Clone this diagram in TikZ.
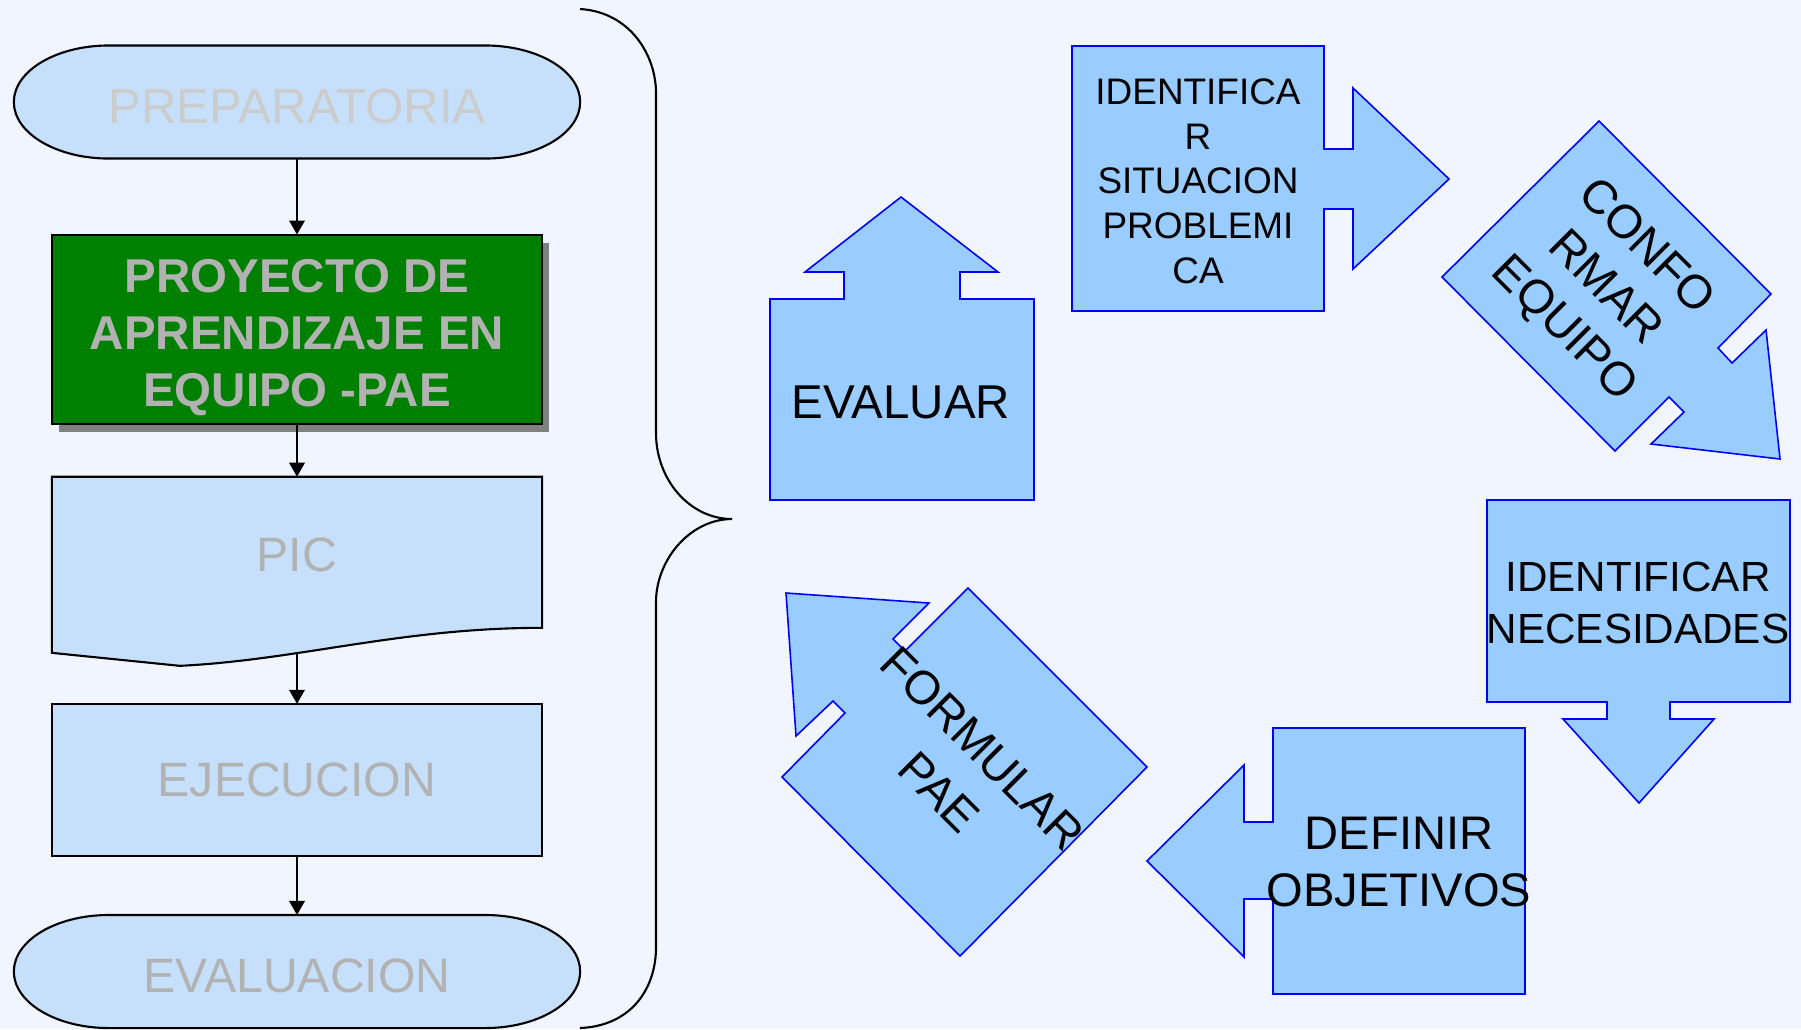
\documentclass[tikz,border=0pt]{standalone}
\usepackage{fontspec}
\setmainfont{Liberation Sans}
\usetikzlibrary{positioning,shadows,backgrounds,arrows.meta}
\definecolor{pagebg}{HTML}{F0F5FF}
\definecolor{flowfill}{HTML}{C6E0FC}
\definecolor{flowtext}{HTML}{B2B2B2}
\definecolor{fainttext}{HTML}{CCCCCC}
\definecolor{cyclefill}{HTML}{99CCFF}
\definecolor{paegreen}{HTML}{008000}
\tikzset{
  flowline/.style={
    draw=black,
    line width=0.6pt
  },
  flowbox/.style={
    rectangle,
    minimum width=4.9cm,
    align=center,
    text=flowtext,
    font=\fontsize{13.7}{16.2}\selectfont,
    inner sep=0pt,
    outer sep=0pt,
  },
  terminal/.style={
    flowbox,
    minimum width=5.66cm,
    minimum height=1.13cm,
    text height=11.8pt,
    text depth=0pt
  },
  flowarrow/.style={
    draw=black,
    line width=0.6pt,
    ->,
    >={Triangle[length=4pt,width=4.4pt]}
  },
  cycleshape/.style={
    fill=cyclefill,
    draw=blue,
    line width=0.45pt,
    line join=miter
  },
  cyclelabel/.style={
    align=center,
    text=black,
    inner sep=0pt,
    font=\fontsize{13.5}{16.2}\selectfont
  }
}

\begin{document}
\begin{tikzpicture}[x=0.01cm, y=-0.01cm]
    \useasboundingbox (0,0) rectangle (1801,1029);

    % left column
    \node [terminal, text=fainttext, font=\fontsize{14}{16.2}\selectfont, text height=12.3pt] (prep) at (297,102) {PREPARATORIA};

    \node [flowbox, flowline, fill=paegreen, minimum height=1.89cm,
           drop shadow={shadow xshift=0.07cm, shadow yshift=-0.08cm, fill=gray, opacity=1},
           below=0.76cm of prep] (pae) {};
    \node [flowbox, font=\bfseries\fontsize{13.5}{16.1}\selectfont, yshift=-0.085cm] (paetext) at (pae)
      {PROYECTO DE\\APRENDIZAJE EN\\EQUIPO -PAE};

    \node [flowbox, minimum height=1.56cm, below=0.53cm of pae] (pic) {PIC};

    \node [flowbox, flowline, fill=flowfill, minimum height=1.52cm, below=0.71cm of pic] (ejec) {EJECUCION};

    \node [terminal, below=0.59cm of ejec] (evalu) {EVALUACION};

    \coordinate (picwave) at ([yshift=-0.21cm]pic.south);

    \begin{scope}[on background layer]
      \fill [pagebg] (0,0) rectangle (1801,1029);
      \draw [flowline, fill=flowfill] ([xshift=0.95cm]prep.north west) -- ([xshift=-0.95cm]prep.north east)
        arc [start angle=90, end angle=-90, x radius=0.95cm, y radius=0.565cm]
        -- ([xshift=0.95cm]prep.south west)
        arc [start angle=270, end angle=90, x radius=0.95cm, y radius=0.565cm] -- cycle;
      \draw [flowline, fill=flowfill] ([xshift=0.95cm]evalu.north west) -- ([xshift=-0.95cm]evalu.north east)
        arc [start angle=90, end angle=-90, x radius=0.95cm, y radius=0.565cm]
        -- ([xshift=0.95cm]evalu.south west)
        arc [start angle=270, end angle=90, x radius=0.95cm, y radius=0.565cm] -- cycle;
      \draw [flowline, fill=flowfill] (pic.north west) -- (pic.north east) -- ([yshift=0.05cm]pic.south east)
        .. controls +(-142,0) and +(120,-6) .. ([xshift=1.28cm, yshift=-0.33cm]pic.south west)
        -- ([yshift=-0.2cm]pic.south west) -- cycle;
    \end{scope}

    \draw [flowarrow] (prep) -- (pae);
    \draw [flowarrow] (pae) -- (pic);
    \draw [flowarrow] (picwave) -- (ejec);
    \draw [flowarrow] (ejec) -- (evalu);

    % brace
    \draw [flowline] (580,9) .. controls (630,12) and (656,55) .. (656,93) -- (656,433)
      .. controls (656,480) and (690,519) .. (732,519)
      .. controls (690,519) and (656,560) .. (656,602) -- (656,947)
      .. controls (656,990) and (630,1026) .. (580,1028);

    % cycle
    \draw [cycleshape] (770,500) -- (770,299) -- (844,299) -- (844,272) -- (805,272) -- (901,197)
      -- (998,272) -- (960,272) -- (960,299) -- (1034,299) -- (1034,500) -- cycle;
    \node [cyclelabel] (evaluar) at (901,402) {EVALUAR};

    \draw [cycleshape] (1072,46) -- (1324,46) -- (1324,149) -- (1353,149) -- (1353,88) -- (1449,179)
      -- (1353,269) -- (1353,209) -- (1324,209) -- (1324,311) -- (1072,311) -- cycle;
    \node [cyclelabel, font=\fontsize{10.5}{12.7}\selectfont] (situacion) at (1198,181)
      {IDENTIFICA\\R\\SITUACION\\PROBLEMI\\CA};

    \draw [cycleshape] (1599,121) -- (1771,294) -- (1718,348) -- (1732,363) -- (1766,330) -- (1780,459)
      -- (1651,444) -- (1684,412) -- (1669,397) -- (1615,451) -- (1442,277) -- cycle;
    \node [cyclelabel, rotate=-45, font=\fontsize{13.4}{16.4}\selectfont] (equipo) at (1604,289)
      {CONFO\\RMAR\\EQUIPO};

    \draw [cycleshape] (1487,500) -- (1790,500) -- (1790,702) -- (1670,702) -- (1670,719) -- (1714,719)
      -- (1639,803) -- (1563,719) -- (1607,719) -- (1607,702) -- (1487,702) -- cycle;
    \node [cyclelabel, font=\fontsize{12}{14.7}\selectfont] (necesidades) at (1638,603)
      {IDENTIFICAR\\NECESIDADES};

    \draw [cycleshape] (1525,728) -- (1525,994) -- (1273,994) -- (1273,899) -- (1244,899) -- (1244,957)
      -- (1147,861) -- (1244,765) -- (1244,822) -- (1273,822) -- (1273,728) -- cycle;
    \node [cyclelabel, font=\fontsize{13.4}{16.2}\selectfont] (objetivos) at (1399,862) {DEFINIR\\OBJETIVOS};

    \draw [cycleshape] (968,588) -- (1147,767) -- (960,956) -- (782,777) -- (845,713) -- (833,701)
      -- (796,736) -- (786,593) -- (929,603) -- (893,639) -- (905,651) -- cycle;
    \node [cyclelabel, rotate=-45, font=\fontsize{13.4}{17.6}\selectfont] (formular) at (961,770)
      {FORMULAR\\PAE};
\end{tikzpicture}
\end{document}
